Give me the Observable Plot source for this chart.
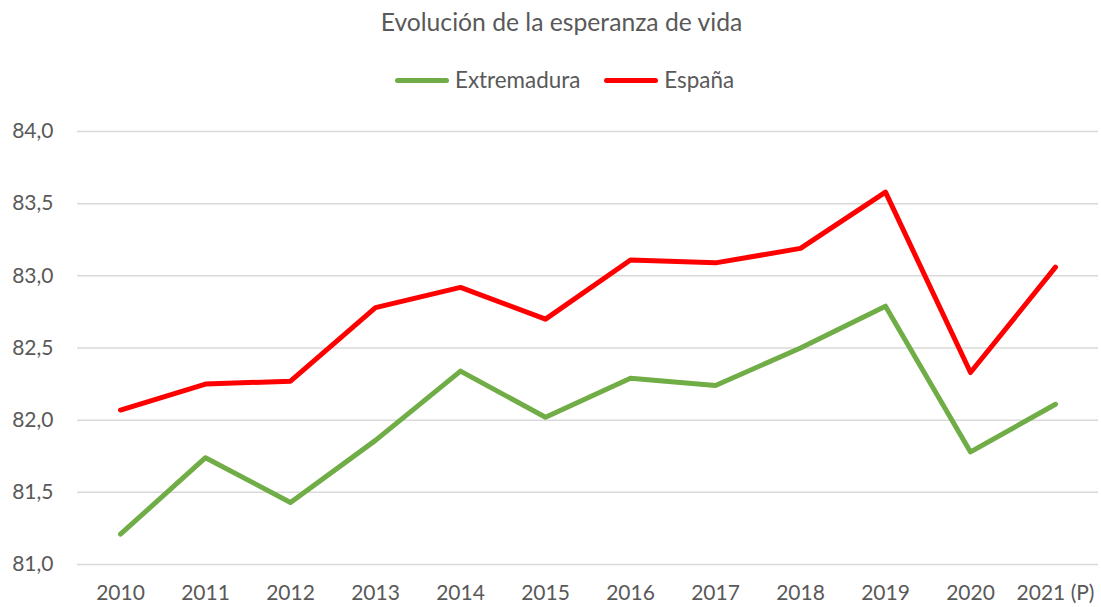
<!DOCTYPE html>
<html>
<head>
<meta charset="utf-8">
<script src="https://cdn.jsdelivr.net/npm/d3@7"></script>
<script src="https://cdn.jsdelivr.net/npm/@observablehq/plot@0.6"></script>
<style>
  html, body { margin: 0; padding: 0; background: #fff; }
  body { width: 1101px; height: 607px; overflow: hidden; font-family: Lato, "Open Sans", sans-serif; color: #595959; }
  #header { position: relative; height: 100px; }
  #title { position: absolute; top: 7px; left: 11px; width: 1101px; text-align: center; font-size: 24.7px; line-height: 30px; }
  #legend { position: absolute; top: 65px; left: 14px; width: 1101px; display: flex; justify-content: center; align-items: center; font-size: 22.4px; line-height: 30px; }
  .item { display: flex; align-items: center; margin: 0 12px; }
  .sw { width: 54px; height: 5px; border-radius: 3px; margin-right: 6px; }
</style>
</head>
<body>
<div id="header">
  <div id="title">Evolución de la esperanza de vida</div>
  <div id="legend"></div>
</div>
<div id="chart"></div>
<script>
const years = ["2010","2011","2012","2013","2014","2015","2016","2017","2018","2019","2020","2021 (P)"];
const extremadura = [81.21, 81.74, 81.43, 81.86, 82.34, 82.02, 82.29, 82.24, 82.50, 82.79, 81.78, 82.11];
const espana = [82.07, 82.25, 82.27, 82.78, 82.92, 82.70, 83.11, 83.09, 83.19, 83.58, 82.33, 83.06];
const seriesNames = ["Extremadura", "España"];
const seriesColors = ["#70AD47", "#FF0000"];
const yTicks = [81, 81.5, 82, 82.5, 83, 83.5, 84];

const rows = [];
years.forEach((y, i) => rows.push({year: y, value: extremadura[i], serie: seriesNames[0]}));
years.forEach((y, i) => rows.push({year: y, value: espana[i], serie: seriesNames[1]}));

const legend = document.getElementById("legend");
seriesNames.forEach((n, i) => {
  const it = document.createElement("div");
  it.className = "item";
  const sw = document.createElement("div");
  sw.className = "sw";
  sw.style.background = seriesColors[i];
  const t = document.createElement("span");
  t.textContent = n;
  it.appendChild(sw); it.appendChild(t);
  legend.appendChild(it);
});

const fmt = d => d.toFixed(1).replace(".", ",");

const chart = Plot.plot({
  width: 1101,
  height: 507,
  marginTop: 31,
  marginBottom: 43,
  marginLeft: 77,
  marginRight: 3,
  style: {fontFamily: "Lato, 'Open Sans', sans-serif", fontSize: "21px", color: "#595959", background: "#fff"},
  x: {type: "point", domain: years, padding: 0.5, label: null},
  y: {domain: [81, 84], label: null},
  color: {domain: seriesNames, range: seriesColors},
  marks: [
    Plot.ruleY(yTicks, {stroke: "#D9D9D9", strokeWidth: 1.5}),
    Plot.axisX({tickSize: 0, tickPadding: 21, fontSize: 21, fill: "#595959", label: null}),
    Plot.axisY({ticks: yTicks, tickSize: 0, tickPadding: 24, fontSize: 21, fill: "#595959", tickFormat: fmt, label: null}),
    Plot.line(rows, {x: "year", y: "value", z: "serie", stroke: "serie", strokeWidth: 5,
      strokeLinecap: "round", strokeLinejoin: "round"})
  ]
});
document.getElementById("chart").appendChild(chart);
</script>
</body>
</html>
